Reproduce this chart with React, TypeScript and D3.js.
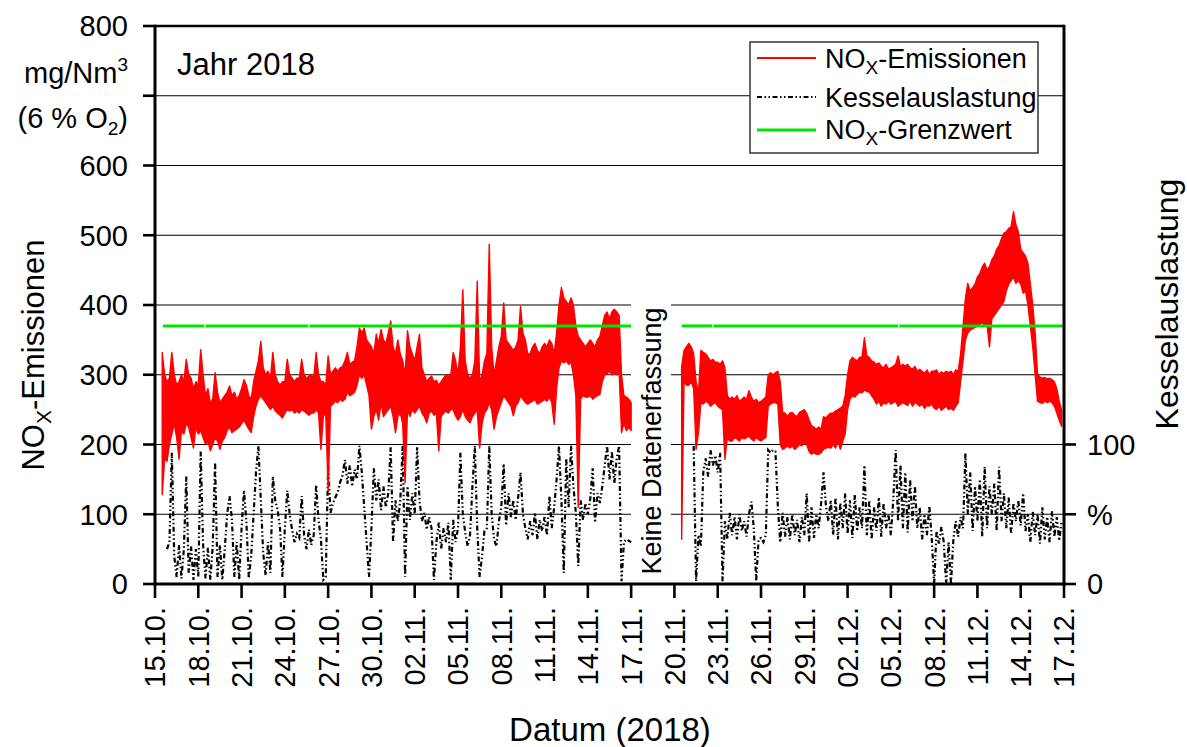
import React from "react";
import * as d3 from "d3";

// ---------- DATA ----------
// NOx emissions, mg/Nm3: upper and lower value of each 4-hour slot (6 slots per day),
// first slot = 15.10.2018 00:00
const noxHighByDay: (number | null)[][] = [
  [null, null, null, 332, 300, 290], // 15.10.
  [295, 332, 300, 285, 290, 300],
  [290, 322, 300, 295, 280, 290],
  [285, 336, 300, 270, 280, 260],
  [265, 303, 275, 260, 265, 270],
  [275, 284, 270, 275, 265, 270], // 20.10.
  [280, 293, 285, 270, 265, 290],
  [305, 320, 348, 310, 300, 305],
  [295, 332, 300, 290, 285, 290],
  [290, 322, 300, 295, 290, 295],
  [295, 322, 300, 295, 298, 300], // 25.10.
  [295, 332, 300, 290, 290, 285],
  [327, 300, 305, 310, 305, 310],
  [312, 320, 332, 315, 318, 320],
  [340, 367, 360, 367, 350, 345],
  [340, 330, 358, 345, 365, 350], // 30.10.
  [345, 360, 377, 340, 330, 350],
  [330, 320, 300, 363, 340, 330],
  [320, 340, 358, 310, 300, 290],
  [295, 298, 290, 292, 285, 290],
  [295, 300, 298, 300, 332, 320], // 04.11.
  [300, 340, 422, 320, 300, 295],
  [300, 320, 434, 290, 300, 320],
  [330, 487, 340, 300, 320, 340],
  [355, 403, 350, 345, 340, 335],
  [340, 350, 398, 360, 350, 330], // 09.11.
  [330, 340, 345, 335, 330, 340],
  [345, 340, 350, 345, 330, 360],
  [400, 425, 410, 405, 400, 410],
  [400, 370, 355, 350, 345, 340],
  [345, 350, 345, 340, 350, 355], // 14.11.
  [370, 385, 390, 380, 390, 394],
  [390, 385, 300, 270, 268, 265],
  [260, null, null, null, null, null], // 17.11.
  [null, null, null, null, null, null],
  [null, null, null, null, null, null],
  [null, null, null, 312, 335, 340], // 20.11.
  [345, 340, 330, 290, 274, 335],
  [332, 330, 325, 320, 322, 318],
  [318, 315, 320, 310, 270, 265],
  [268, 265, 270, 262, 265, 268],
  [265, 277, 268, 262, 265, 260], // 25.11.
  [262, 265, 268, 300, 303, 300],
  [303, 305, 290, 246, 245, 240],
  [245, 246, 242, 240, 246, 248],
  [250, 245, 235, 227, 225, 222],
  [225, 222, 240, 238, 242, 245], // 30.11.
  [245, 248, 250, 252, 255, 270],
  [300, 320, 325, 322, 320, 325],
  [325, 353, 327, 325, 320, 318],
  [315, 317, 312, 310, 315, 308],
  [310, 312, 315, 327, 312, 315], // 05.12.
  [312, 315, 310, 308, 312, 305],
  [308, 305, 302, 307, 300, 305],
  [305, 307, 300, 304, 302, 305],
  [303, 305, 300, 307, 305, 330],
  [369, 410, 431, 420, 425, 430], // 10.12.
  [440, 445, 455, 460, 450, 455],
  [465, 470, 480, 485, 495, 503],
  [505, 510, 512, 534, 515, 505],
  [480, 475, 470, 460, 430, 400],
  [360, 300, 297, 295, 296, 294], // 15.12.
  [295, 293, 290, 280, 262, 250],
];

const noxLowByDay: (number | null)[][] = [
  [null, null, null, 128, 180, 176], // 15.10.
  [200, 215, 230, 210, 179, 220],
  [215, 230, 225, 210, 195, 225],
  [215, 220, 210, 200, 205, 191],
  [200, 210, 205, 193, 205, 210],
  [220, 225, 217, 220, 222, 225], // 20.10.
  [230, 235, 228, 222, 217, 240],
  [255, 265, 270, 265, 260, 255],
  [250, 255, 248, 245, 242, 238],
  [245, 250, 248, 250, 245, 248],
  [245, 250, 248, 245, 242, 245], // 25.10.
  [245, 250, 245, 193, 240, 245],
  [133, 255, 258, 262, 260, 265],
  [262, 265, 275, 270, 272, 275],
  [285, 300, 295, 300, 285, 270],
  [222, 240, 250, 235, 260, 240], // 30.10.
  [245, 250, 255, 240, 217, 240],
  [245, 230, 145, 250, 240, 250],
  [245, 250, 255, 245, 240, 231],
  [245, 248, 242, 245, 191, 240],
  [245, 248, 245, 250, 250, 241], // 04.11.
  [235, 240, 250, 240, 235, 231],
  [240, 245, 250, 195, 230, 245],
  [250, 260, 250, 222, 240, 250],
  [260, 270, 265, 260, 255, 241],
  [255, 260, 270, 265, 260, 258], // 09.11.
  [260, 262, 265, 258, 260, 262],
  [265, 262, 268, 260, 229, 280],
  [310, 320, 317, 320, 315, 318],
  [300, 270, 110, 265, 270, 268],
  [268, 270, 265, 268, 270, 272], // 14.11.
  [290, 300, 302, 305, 300, 302],
  [300, 305, 217, 230, 220, 225],
  [220, null, null, null, null, null], // 17.11.
  [null, null, null, null, null, null],
  [null, null, null, null, null, null],
  [null, null, null, 64, 290, 285], // 20.11.
  [285, 290, 280, 193, 217, 260],
  [258, 262, 260, 255, 258, 260],
  [255, 252, 250, 179, 210, 205],
  [205, 210, 208, 205, 210, 208],
  [210, 212, 208, 205, 210, 207], // 25.11.
  [205, 208, 210, 255, 258, 260],
  [260, 258, 200, 193, 195, 198],
  [195, 198, 193, 196, 200, 198],
  [203, 200, 190, 186, 188, 186],
  [186, 188, 193, 195, 196, 195], // 30.11.
  [200, 195, 205, 193, 205, 215],
  [250, 265, 270, 268, 272, 275],
  [274, 278, 276, 275, 270, 265],
  [258, 262, 255, 260, 258, 262],
  [258, 260, 262, 255, 258, 260], // 05.12.
  [258, 256, 262, 255, 260, 258],
  [255, 258, 252, 256, 255, 258],
  [252, 250, 255, 249, 252, 255],
  [250, 252, 249, 255, 260, 290],
  [320, 350, 360, 364, 366, 368], // 10.12.
  [370, 372, 375, 370, 372, 340],
  [380, 385, 390, 395, 400, 405],
  [420, 430, 435, 440, 431, 435],
  [430, 417, 420, 400, 370, 340],
  [300, 262, 260, 259, 262, 260], // 15.12.
  [262, 260, 255, 245, 235, 226],
];

// Boiler load (Kesselauslastung), %, 4-hour grid
const loadByDay: (number | null)[][] = [
  [null, null, null, null, null, 25],
  [30, 94, 20, 5, 28, 4],
  [25, 77, 8, 27, 3, 25],
  [5, 95, 28, 4, 26, 3],
  [27, 87, 5, 28, 3, 25],
  [50, 63, 46, 5, 30, 3],
  [40, 67, 45, 4, 20, 50],
  [80, 99, 60, 22, 6, 30],
  [8, 77, 60, 53, 40, 5],
  [40, 67, 50, 39, 30, 36],
  [33, 63, 35, 25, 39, 28],
  [35, 71, 46, 32, 3, 5],
  [85, 51, 58, 62, 66, 73],
  [78, 89, 72, 85, 70, 82],
  [75, 99, 80, 55, 30, 5],
  [40, 83, 60, 75, 53, 70],
  [55, 65, 98, 30, 60, 45],
  [60, 99, 5, 70, 46, 65],
  [50, 98, 60, 45, 51, 39],
  [48, 40, 3, 30, 44, 25],
  [40, 30, 44, 3, 46, 30],
  [40, 94, 50, 37, 27, 35],
  [70, 99, 40, 5, 20, 38],
  [40, 99, 50, 32, 27, 45],
  [55, 86, 42, 65, 48, 60],
  [46, 62, 80, 50, 40, 32],
  [45, 35, 51, 32, 46, 38],
  [48, 35, 63, 40, 55, 75],
  [99, 60, 8, 90, 55, 99],
  [70, 51, 13, 60, 46, 58],
  [50, 61, 83, 44, 65, 58],
  [70, 85, 99, 75, 95, 72],
  [90, 99, 2, 30, 32, 31],
  [30, null, null, null, null, null],
  [null, null, null, null, null, null],
  [null, null, null, null, null, null],
  [null, null, null, null, null, null],
  [null, null, 99, 2, 35, 27],
  [80, 90, 77, 96, 85, 92],
  [80, 94, 2, 45, 32, 51],
  [35, 48, 32, 50, 38, 45],
  [34, 50, 59, 40, 2, 32],
  [33, 30, 35, 96, 94, 96],
  [95, 56, 30, 51, 34, 48],
  [32, 50, 35, 46, 30, 48],
  [35, 65, 30, 55, 33, 50],
  [40, 58, 80, 56, 45, 60],
  [35, 62, 32, 58, 40, 65],
  [36, 60, 33, 64, 38, 55],
  [40, 85, 35, 60, 32, 55],
  [38, 62, 34, 58, 40, 50],
  [35, 60, 96, 45, 85, 40],
  [80, 37, 75, 45, 70, 40],
  [55, 32, 50, 35, 56, 33],
  [0, 38, 29, 41, 30, 0],
  [30, 0, 32, 45, 34, 48],
  [40, 94, 50, 80, 38, 70],
  [45, 75, 34, 84, 40, 70],
  [50, 72, 38, 84, 45, 65],
  [40, 62, 36, 58, 45, 60],
  [42, 65, 38, 50, 30, 52],
  [35, 50, 29, 55, 32, 48],
  [30, 52, 34, 48, 31, 45],
];

// NOx limit value and its recorded spans (day offsets from 15.10.)
const limitValue = 370;
const limitSpans: [number, number][] = [
  [0.55, 3.42], [3.5, 10.62], [10.7, 22.6], [22.68, 33.0],
  [36.5, 38.62], [38.7, 51.5], [51.58, 62.9],
];

const dateLabels = [
  "15.10.", "18.10.", "21.10.", "24.10.", "27.10.", "30.10.", "02.11.", "05.11.",
  "08.11.", "11.11.", "14.11.", "17.11.", "20.11.", "23.11.", "26.11.", "29.11.",
  "02.12.", "05.12.", "08.12.", "11.12.", "14.12.", "17.12.",
];
const leftTicks = [0, 100, 200, 300, 400, 500, 600, 700, 800];
const leftTickLabels = ["0", "100", "200", "300", "400", "500", "600", "", "800"];
const rightTicks = [0, 50, 100];
const rightTickLabels = ["0", "%", "100"];

const totalDays = 63;
const perDay = 6;

type Slot = { t: number; lo: number | null; hi: number | null };
type Pt = { t: number; v: number | null };

export default function App() {
  const W = 1187, H = 747;
  const L = 155, R = 1064, T = 26, B = 584;
  const x = d3.scaleLinear().domain([0, totalDays]).range([L, R]);
  const y = d3.scaleLinear().domain([0, 800]).range([B, T]);
  const yR = d3.scaleLinear().domain([0, 100]).range([B, y(200)]);

  const hiFlat = noxHighByDay.flat();
  const loFlat = noxLowByDay.flat();
  const nox: Slot[] = hiFlat.map((h, i) => ({ t: i / perDay, hi: h, lo: loFlat[i] }));
  const load: Pt[] = loadByDay.flat().map((v, i) => ({ t: i / perDay, v }));

  const noxArea = d3.area<Slot>()
    .defined((d) => d.hi != null && d.lo != null)
    .x((d) => x(d.t))
    .y0((d) => y(d.lo as number))
    .y1((d) => y(d.hi as number));
  const loadLine = d3.line<Pt>()
    .defined((d) => d.v != null)
    .x((d) => x(d.t))
    .y((d) => yR(d.v as number));

  const font = "'Liberation Sans', Arial, Helvetica, sans-serif";
  const fs = 29;
  const dashLoad = "5,2.5,1.5,2.5,1.5,2.5";
  const red = "#ff0000";
  const green = "#00e600";

  return (
    <div style={{ position: "absolute", left: 0, top: 0 }}>
      <svg width={W} height={H} style={{ display: "block" }} fontFamily={font}>
        <rect x={0} y={0} width={W} height={H} fill="#fff" />
        {/* gridlines */}
        {leftTicks.filter((t) => t > 0 && t < 800).map((t) => (
          <line key={t} x1={L} x2={R} y1={y(t)} y2={y(t)} stroke="#000" strokeWidth={1.2} />
        ))}
        {/* no-data box */}
        <rect x={631} y={290} width={40} height={B - 291} fill="#fff" />
        <text
          transform={`translate(${651},${441}) rotate(-90)`}
          textAnchor="middle"
          dy="0.36em"
          fontSize={27}
          fill="#000"
        >
          Keine Datenerfassung
        </text>

        {/* boiler load */}
        <path d={loadLine(load) || ""} fill="none" stroke="#000" strokeWidth={2.2} strokeDasharray={dashLoad} />
        {/* NOx band */}
        <path d={noxArea(nox) || ""} fill={red} stroke={red} strokeWidth={1.4} strokeLinejoin="round" />
        {/* limit */}
        {limitSpans.map(([a, b], i) => (
          <line key={i} x1={x(a)} x2={x(b)} y1={y(limitValue)} y2={y(limitValue)} stroke={green} strokeWidth={3} />
        ))}

        {/* frame */}
        <line x1={L} x2={R} y1={T} y2={T} stroke="#000" strokeWidth={2.6} />
        <line x1={L} x2={L} y1={T - 1.3} y2={B + 1.5} stroke="#000" strokeWidth={3} />
        <line x1={R} x2={R} y1={T - 1.3} y2={B + 1.5} stroke="#000" strokeWidth={3} />
        <line x1={L - 1.5} x2={R + 1.5} y1={B} y2={B} stroke="#000" strokeWidth={3} />

        {/* left axis ticks & labels */}
        {leftTicks.map((t, i) => (
          <g key={t}>
            <line x1={L - 12} x2={L} y1={y(t)} y2={y(t)} stroke="#000" strokeWidth={2.6} />
            {leftTickLabels[i] && (
              <text x={128} y={y(t)} dy="0.36em" textAnchor="end" fontSize={fs}>
                {leftTickLabels[i]}
              </text>
            )}
          </g>
        ))}
        <text x={128} y={83} textAnchor="end" fontSize={fs}>
          mg/Nm<tspan fontSize={19} dy={-12}>3</tspan>
        </text>
        <text x={128} y={128} textAnchor="end" fontSize={fs}>
          (6 % O<tspan fontSize={19} dy={7}>2</tspan><tspan dy={-7}>)</tspan>
        </text>

        {/* right axis */}
        {rightTicks.map((t, i) => (
          <g key={t}>
            <line x1={R} x2={R + 12} y1={yR(t)} y2={yR(t)} stroke="#000" strokeWidth={2.6} />
            <text x={1087} y={yR(t)} dy="0.36em" textAnchor="start" fontSize={fs}>
              {rightTickLabels[i]}
            </text>
          </g>
        ))}

        {/* x ticks & labels */}
        {dateLabels.map((lab, i) => {
          const xx = x(i * 3);
          return (
            <g key={lab}>
              <line x1={xx} x2={xx} y1={B} y2={B + 14} stroke="#000" strokeWidth={2.6} />
              <text
                transform={`translate(${xx},${607}) rotate(-90)`}
                textAnchor="end"
                dy="0.36em"
                fontSize={fs}
              >
                {lab}
              </text>
            </g>
          );
        })}

        {/* axis titles */}
        <text x={610} y={741} textAnchor="middle" fontSize={33}>
          Datum (2018)
        </text>
        <text transform={`translate(${44},${355}) rotate(-90)`} textAnchor="middle" fontSize={31}>
          NO<tspan fontSize={21} dy={7}>X</tspan><tspan dy={-7}>-Emissionen</tspan>
        </text>
        <text transform={`translate(${1178},${304}) rotate(-90)`} textAnchor="middle" fontSize={32}>
          Kesselauslastung
        </text>

        <text x={177} y={75} fontSize={31}>
          Jahr 2018
        </text>

        {/* legend */}
        <g>
          <rect x={750} y={42} width={288} height={111} fill="#fff" stroke="#333" strokeWidth={1.5} />
          <line x1={757} x2={816} y1={58} y2={58} stroke={red} strokeWidth={1.8} />
          <text x={825} y={68} fontSize={27}>
            NO<tspan fontSize={19} dy={6}>X</tspan><tspan dy={-6}>-Emissionen</tspan>
          </text>
          <line x1={757} x2={816} y1={97} y2={97} stroke="#000" strokeWidth={1.8} strokeDasharray={dashLoad} />
          <text x={825} y={107} fontSize={27}>
            Kesselauslastung
          </text>
          <line x1={757} x2={816} y1={130} y2={130} stroke={green} strokeWidth={3} />
          <text x={825} y={139} fontSize={27}>
            NO<tspan fontSize={19} dy={6}>X</tspan><tspan dy={-6}>-Grenzwert</tspan>
          </text>
        </g>
      </svg>
    </div>
  );
}
